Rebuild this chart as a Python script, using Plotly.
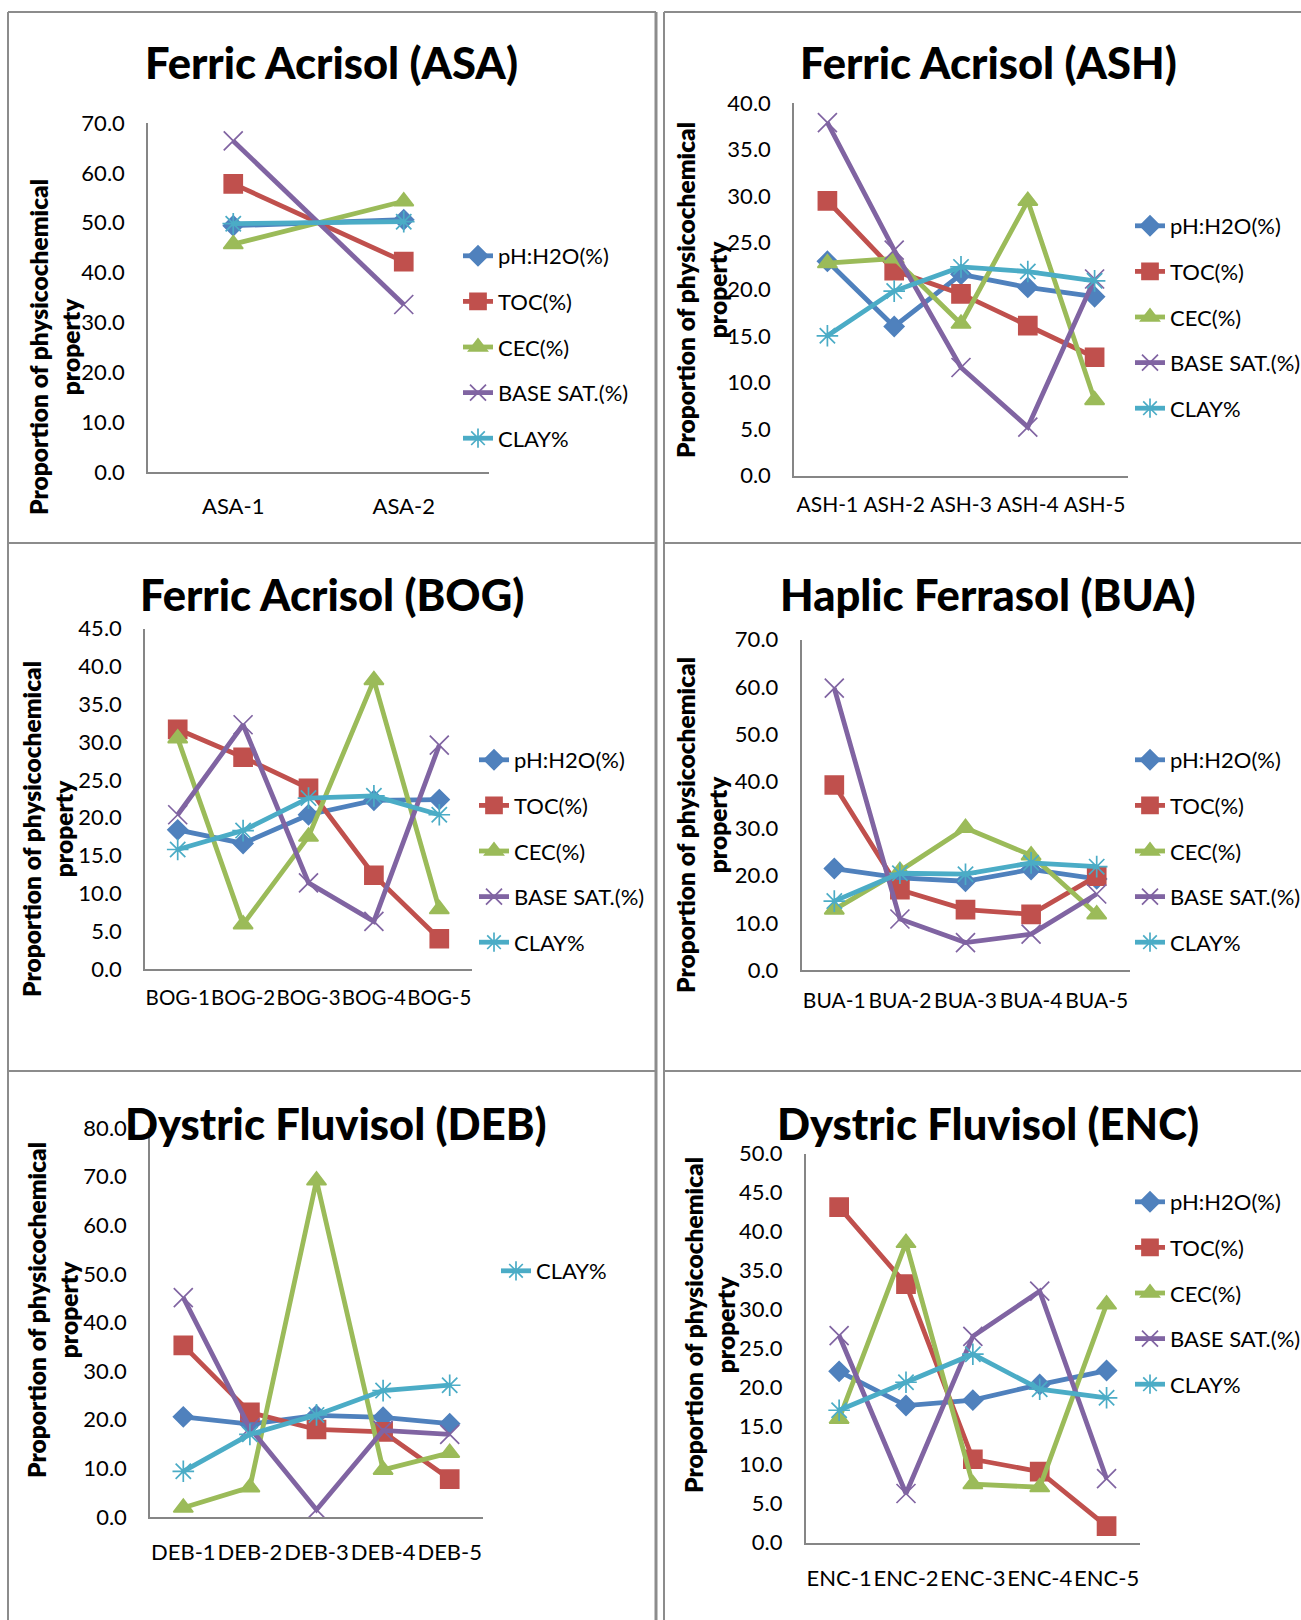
import plotly.graph_objects as go

W, H = 1301, 1620

# ---- data: proportion of each physicochemical property per sample ----
series_names = ["pH:H2O(%)", "TOC(%)", "CEC(%)", "BASE SAT.(%)", "CLAY%"]

asa_samples = ["ASA-1", "ASA-2"]
asa_ph = [49.4, 50.6]
asa_toc = [57.8, 42.2]
asa_cec = [45.7, 54.3]
asa_base = [66.4, 33.6]
asa_clay = [49.8, 50.2]

ash_samples = ["ASH-1", "ASH-2", "ASH-3", "ASH-4", "ASH-5"]
ash_ph = [23.0, 16.0, 21.6, 20.2, 19.2]
ash_toc = [29.5, 22.0, 19.5, 16.1, 12.7]
ash_cec = [22.8, 23.3, 16.3, 29.5, 8.1]
ash_base = [37.9, 24.2, 11.6, 5.2, 21.1]
ash_clay = [15.0, 19.8, 22.4, 21.9, 20.9]

bog_samples = ["BOG-1", "BOG-2", "BOG-3", "BOG-4", "BOG-5"]
bog_ph = [18.4, 16.6, 20.4, 22.3, 22.4]
bog_toc = [31.7, 28.0, 23.9, 12.4, 4.0]
bog_cec = [30.5, 5.9, 17.5, 38.2, 7.9]
bog_base = [20.4, 32.3, 11.4, 6.3, 29.6]
bog_clay = [15.8, 18.3, 22.6, 22.9, 20.4]

bua_samples = ["BUA-1", "BUA-2", "BUA-3", "BUA-4", "BUA-5"]
bua_ph = [21.5, 19.5, 18.8, 21.3, 19.3]
bua_toc = [39.2, 17.0, 12.8, 11.8, 19.9]
bua_cec = [12.8, 21.0, 30.1, 24.3, 11.8]
bua_base = [59.7, 10.8, 5.8, 7.6, 16.1]
bua_clay = [14.6, 20.5, 20.3, 22.7, 21.9]

deb_samples = ["DEB-1", "DEB-2", "DEB-3", "DEB-4", "DEB-5"]
deb_ph = [20.6, 19.1, 20.9, 20.5, 19.2]
deb_toc = [35.3, 21.5, 18.0, 17.5, 7.8]
deb_cec = [1.9, 6.1, 69.2, 9.7, 13.2]
deb_base = [45.1, 18.3, 1.5, 17.8, 17.0]
deb_clay = [9.4, 17.0, 21.0, 26.0, 27.1]

enc_samples = ["ENC-1", "ENC-2", "ENC-3", "ENC-4", "ENC-5"]
enc_ph = [22.0, 17.6, 18.3, 20.3, 22.1]
enc_toc = [43.1, 33.2, 10.7, 9.1, 2.1]
enc_cec = [15.9, 38.5, 7.5, 7.1, 30.6]
enc_base = [26.6, 6.3, 26.5, 32.3, 8.2]
enc_clay = [17.0, 20.6, 24.2, 19.7, 18.6]

titles = ["Ferric Acrisol (ASA)", "Ferric Acrisol (ASH)", "Ferric Acrisol (BOG)",
          "Haplic Ferrasol (BUA)", "Dystric Fluvisol (DEB)", "Dystric Fluvisol (ENC)"]
y_max = [70, 40, 45, 70, 80, 50]
y_step = [10, 5, 5, 10, 10, 5]

panels_data = [
    (asa_samples, [asa_ph, asa_toc, asa_cec, asa_base, asa_clay]),
    (ash_samples, [ash_ph, ash_toc, ash_cec, ash_base, ash_clay]),
    (bog_samples, [bog_ph, bog_toc, bog_cec, bog_base, bog_clay]),
    (bua_samples, [bua_ph, bua_toc, bua_cec, bua_base, bua_clay]),
    (deb_samples, [deb_ph, deb_toc, deb_cec, deb_base, deb_clay]),
    (enc_samples, [enc_ph, enc_toc, enc_cec, enc_base, enc_clay]),
]

# ---- styling ----
colors = ["#4F81BD", "#C0504D", "#9BBB59", "#8064A2", "#4BACC6"]
symbols = ["diamond", "square", "triangle-up", "x-thin-open", "asterisk-open"]
sizes = [15, 18, 17, 19, 18]
FONT = "Lato"
AXIS_GRAY = "#868686"
BORDER_GRAY = "#8C8C8C"

# plot-area boxes in pixels: (left, right, top, bottom)
plot_boxes = [
    (148, 489, 123, 472),
    (794, 1128, 103, 475.5),
    (145, 472, 628.7, 969),
    (801.5, 1129.5, 639.6, 970),
    (150, 483, 1128, 1517),
    (805.7, 1140, 1153.5, 1542.5),
]
# gap between x axis line and category labels, and label size, per panel
x_label_gap = [14, 10, 10, 11, 15, 15]
x_label_size = [22, 21, 20.5, 21, 22, 22]
title_pos = [(331, 62), (988, 62), (332, 594), (988, 594), (336, 1123), (988, 1123)]
ytitle_pos = [(54, 347), (701, 290), (47, 829), (701, 825), (52, 1310), (709, 1325)]
# legend anchor (text start x, first-item centre y)
legend_pos = [(500, 256), (1172, 226), (516, 760), (1172, 760), (538, 1271), (1172, 1202)]


def px_x(p):
    return p / W


def px_y(p):
    return 1 - p / H


fig = go.Figure()
layout = dict(
    width=W, height=H,
    margin=dict(l=0, r=0, t=0, b=0, autoexpand=False),
    paper_bgcolor="white", plot_bgcolor="white",
    font=dict(family=FONT, color="black", size=22),
    showlegend=True,
)

annotations = []
for i, (samples, values) in enumerate(panels_data):
    k = i + 1
    xa = "x" if k == 1 else f"x{k}"
    ya = "y" if k == 1 else f"y{k}"
    leg = "legend" if k == 1 else f"legend{k}"
    for j, name in enumerate(series_names):
        show = True if i != 4 else (j == 4)
        fig.add_trace(go.Scatter(
            x=samples, y=values[j], name=name,
            mode="lines+markers",
            line=dict(color=colors[j], width=4.8),
            marker=dict(symbol=symbols[j], size=sizes[j], color=colors[j],
                        line=dict(color=colors[j], width=1.7)),
            xaxis=xa, yaxis=ya, legend=leg,
            legendgroup=f"p{k}s{j}", showlegend=show,
        ))

    left, right, top, bottom = plot_boxes[i]
    n = len(samples)
    xkey = "xaxis" if k == 1 else f"xaxis{k}"
    ykey = "yaxis" if k == 1 else f"yaxis{k}"
    layout[xkey] = dict(
        domain=[px_x(left), px_x(right)], anchor=ya,
        type="category", range=[-0.5, n - 0.5],
        showline=True, linecolor=AXIS_GRAY, linewidth=1.5,
        showgrid=False, zeroline=False, ticks="", tickangle=0,
        ticklabelstandoff=x_label_gap[i],
        tickfont=dict(family=FONT, size=x_label_size[i], color="black"),
    )
    layout[ykey] = dict(
        domain=[px_y(bottom), px_y(top)], anchor=xa,
        range=[0, y_max[i]],
        tickvals=list(range(0, y_max[i] + 1, y_step[i])),
        tickformat=".1f",
        showline=True, linecolor=AXIS_GRAY, linewidth=1.5,
        showgrid=False, zeroline=False, ticks="",
        ticklabelstandoff=17,
        tickfont=dict(family=FONT, size=22, color="black"),
    )

    lx, ly = legend_pos[i]
    layout[leg] = dict(
        x=px_x(lx - 42), y=px_y(ly - 21), xanchor="left", yanchor="top",
        bgcolor="rgba(0,0,0,0)", tracegroupgap=14,
        font=dict(family=FONT, size=22, color="black"),
    )

    tx, ty = title_pos[i]
    annotations.append(dict(
        x=px_x(tx), y=px_y(ty), xref="paper", yref="paper",
        text=titles[i], showarrow=False,
        xanchor="center", yanchor="middle",
        font=dict(family=FONT, size=43.5, color="black", weight=900),
    ))
    yx, yy = ytitle_pos[i]
    annotations.append(dict(
        x=px_x(yx), y=px_y(yy), xref="paper", yref="paper",
        text="Proportion of physicochemical<br>property",
        showarrow=False, textangle=-90,
        xanchor="center", yanchor="middle",
        font=dict(family=FONT, size=24.5, color="black", weight=800),
    ))

layout["annotations"] = annotations

# frame lines separating the six chart boxes
shapes = []
for yline in (12, 543, 1071):
    shapes.append(dict(type="line", xref="paper", yref="paper",
                       x0=px_x(8), x1=px_x(656), y0=px_y(yline), y1=px_y(yline),
                       line=dict(color=BORDER_GRAY, width=2)))
    shapes.append(dict(type="line", xref="paper", yref="paper",
                       x0=px_x(664), x1=1, y0=px_y(yline), y1=px_y(yline),
                       line=dict(color=BORDER_GRAY, width=2)))
for xline, wline in ((8, 2), (656, 3), (664, 2)):
    shapes.append(dict(type="line", xref="paper", yref="paper",
                       x0=px_x(xline), x1=px_x(xline), y0=px_y(12), y1=0,
                       line=dict(color=BORDER_GRAY, width=wline)))
layout["shapes"] = shapes

fig.update_layout(**layout)
fig.write_html("out.html")
